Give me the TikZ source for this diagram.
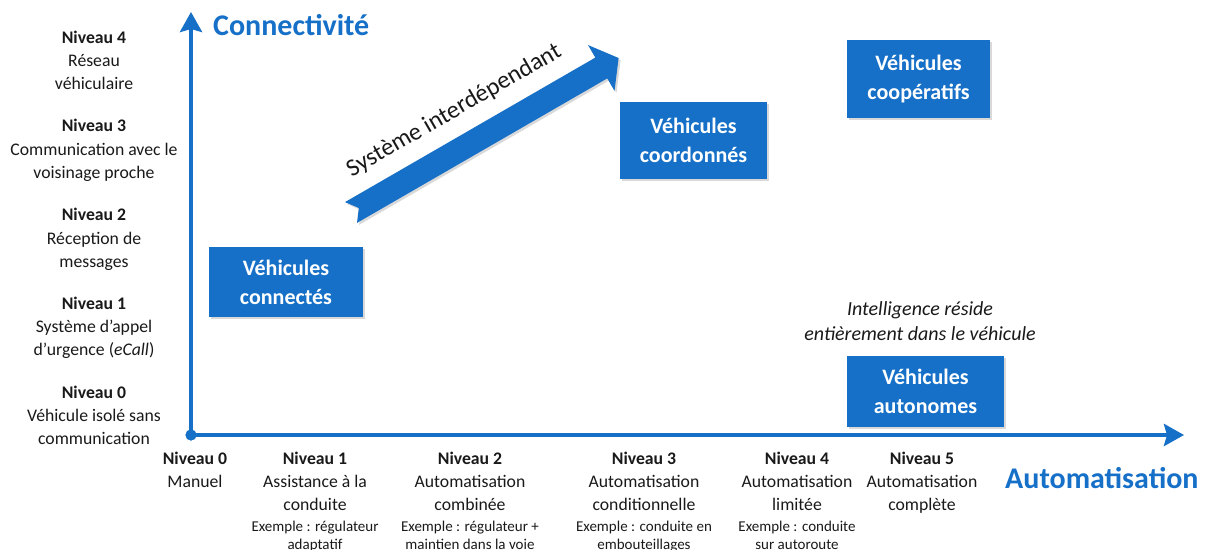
\documentclass[tikz,border=0pt]{standalone}
\usepackage{fontspec}
\setmainfont{Carlito}
\usetikzlibrary{arrows.meta,shadows}
\definecolor{vblue}{RGB}{22,112,200}
\definecolor{txt}{RGB}{25,25,25}
\begin{document}
\begin{tikzpicture}[x=1pt,y=-1pt,
  lbl/.style={anchor=base,inner sep=0pt,text=txt,font=\fontsize{17.7}{21}\selectfont},
  lblb/.style={lbl,font=\fontsize{17.7}{21}\selectfont\bfseries},
  smalllbl/.style={lbl,font=\fontsize{15}{18}\selectfont},
  itlbl/.style={lbl,font=\fontsize{20}{24}\selectfont\itshape},
  vbox/.style={fill=vblue,text=white,align=center,inner sep=0pt,
    font=\fontsize{22}{29}\selectfont\bfseries,
    drop shadow={shadow xshift=2pt,shadow yshift=-2pt,opacity=0.3}},
  axisline/.style={draw=vblue,line width=4pt,-{Stealth[length=20pt,width=22pt,inset=3pt]}},
  titletxt/.style={anchor=base west,inner sep=0pt,text=vblue,font=\fontsize{30}{36}\selectfont\bfseries},
]
\useasboundingbox (0,0) rectangle (1210,549);

% axes
\node[circle,fill=vblue,inner sep=0pt,minimum size=11pt] (o) at (191,435) {};
\coordinate (ytip) at (191,12);
\coordinate (xtip) at (1184,435);
\draw[axisline] (o.center) -- (ytip);
\draw[axisline] (o.center) -- (xtip);
\node[circle,fill=vblue,inner sep=0pt,minimum size=11pt] (o2) at (191,435) {};

% titles
\node[titletxt] (tconn) at (213,35) {Connectivité};
\node[titletxt] (tauto) at (1005,488) {Automatisation};

% big arrow
\begin{scope}[shift={(351,212.5)},rotate=30]
  \path[fill=vblue,drop shadow={shadow xshift=2pt,shadow yshift=-2pt,opacity=0.3}]
    (0,-12) -- (289,-12) -- (289,-26.5) -- (309,0) -- (289,26.5) -- (289,12) -- (0,12) -- (9,0) -- cycle;
  \node[anchor=base,inner sep=0pt,rotate=30,text=txt,font=\fontsize{24.5}{28}\selectfont] (sys) at (140,-30) {Système interdépendant};
\end{scope}

% boxes
\node[vbox,minimum width=154pt,minimum height=70pt] (bconn) at (286,282) {Véhicules\\connectés};
\node[vbox,minimum width=147pt,minimum height=77pt] (bcoord) at (693.5,140.5) {Véhicules\\coordonnés};
\node[vbox,minimum width=143pt,minimum height=78pt] (bcoop) at (918.5,79) {Véhicules\\coopératifs};
\node[vbox,minimum width=157pt,minimum height=71pt] (bauto) at (925.5,391.5) {Véhicules\\autonomes};

% italic note
\node[itlbl] (int1) at (920,315.5) {Intelligence réside};
\node[itlbl] (int2) at (920,340.5) {entièrement dans le véhicule};

% left labels
\foreach \n/\y/\a/\b in {4/43.3/Réseau/véhiculaire,
  3/131.9/Communication avec le/voisinage proche,
  2/220.7/Réception de/messages,
  1/309.3/Système d’appel/d’urgence (\textit{eCall}),
  0/398.3/Véhicule isolé sans/communication}{
  \node[lblb] (cn\n) at (94,\y) {Niveau \n};
  \node[lbl] (ca\n) at (94,\y+23.3) {\a};
  \node[lbl] (cb\n) at (94,\y+46.6) {\b};
}

% bottom labels
\node[lblb] (an0) at (195,464) {Niveau 0};
\node[lbl] (aa0) at (195,487) {Manuel};
\foreach \n/\x/\a/\b/\c/\d in {1/315/Assistance à la/conduite/Exemple : régulateur/adaptatif,
  2/470/Automatisation/combinée/Exemple : régulateur +/maintien dans la voie,
  3/644/Automatisation/conditionnelle/Exemple : conduite en/embouteillages,
  4/797/Automatisation/limitée/Exemple : conduite/sur autoroute}{
  \node[lblb] (an\n) at (\x,464) {Niveau \n};
  \node[lbl] (aa\n) at (\x,487) {\a};
  \node[lbl] (ab\n) at (\x,510) {\b};
  \node[smalllbl] (ac\n) at (\x,531.5) {\c};
  \node[smalllbl] (ad\n) at (\x,549) {\d};
}
\node[lblb] (an5) at (922,464) {Niveau 5};
\node[lbl] (aa5) at (922,487) {Automatisation};
\node[lbl] (ab5) at (922,510) {complète};
\end{tikzpicture}
\end{document}
